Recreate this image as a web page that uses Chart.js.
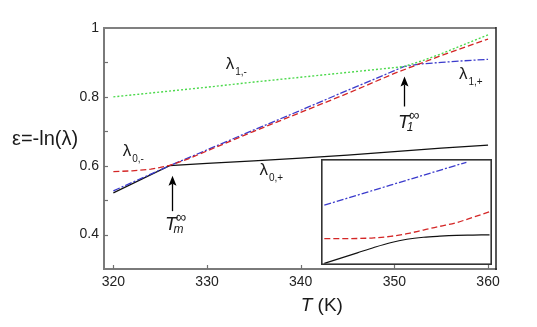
<!DOCTYPE html>
<html><head><meta charset="utf-8">
<script src="https://cdn.jsdelivr.net/npm/chart.js@4/dist/chart.umd.min.js"></script>
<style>
html,body{margin:0;padding:0;background:#fff;}
#wrap{position:relative;width:537px;height:327px;overflow:hidden;}
#main{position:absolute;left:0;top:0;}
#inset{position:absolute;left:321px;top:159px;}
</style></head><body>
<div id="wrap"><canvas id="main" width="537" height="327"></canvas><canvas id="inset" width="171" height="106"></canvas></div>
<script>
// ---- data ----
const xTickValues = [320, 330, 340, 350, 360];
const yTickValues = [0.4, 0.6, 0.8, 1.0];
const yMinorTicks = [0.4, 0.5, 0.6, 0.7, 0.8, 0.9];

const tGreen = [320, 325, 330, 335, 340, 345, 350, 351, 353, 355, 357, 360];
const lambda1Minus = [0.800, 0.814, 0.828, 0.843, 0.857, 0.871, 0.885, 0.888, 0.905, 0.925, 0.947, 0.980];

const tBlue = [320, 326, 330, 335, 340, 345, 350, 351, 353, 355, 357, 360];
const lambda1Plus = [0.527, 0.600, 0.646, 0.704, 0.761, 0.819, 0.876, 0.888, 0.896, 0.900, 0.904, 0.909];

const tRed = [320, 322, 324, 325, 326, 328, 330, 335, 340, 345, 350, 355, 360];
const lambda0Minus = [0.583, 0.585, 0.590, 0.595, 0.601, 0.620, 0.643, 0.700, 0.755, 0.810, 0.868, 0.920, 0.968];

const tBlack = [320, 326, 330, 335, 340, 345, 350, 355, 360];
const lambda0Plus = [0.521, 0.600, 0.607, 0.614, 0.622, 0.631, 0.641, 0.651, 0.660];

// inset (arbitrary units)
const insetBlueX = [0, 2, 4, 6, 8, 8.6];
const insetBlue = [0.565, 0.659, 0.753, 0.847, 0.941, 0.969];
const insetRedX = [0, 1, 2, 3, 4, 5, 6, 7, 8, 9, 10];
const insetRed = [0.248, 0.248, 0.250, 0.256, 0.270, 0.295, 0.330, 0.365, 0.400, 0.450, 0.502];
const insetBlackX = [0, 1, 2, 3, 4, 5, 6, 7, 8, 9, 10];
const insetBlack = [0.016, 0.065, 0.115, 0.165, 0.210, 0.243, 0.262, 0.272, 0.279, 0.282, 0.285];

const GREEN = '#4cd94c', RED = '#d42626', BLUE = '#3b3bcc', BLACK = '#111111';
const zip = (xs, ys) => xs.map((x, i) => ({x, y: ys[i]}));
const FONT = '"Liberation Sans", Arial, sans-serif';

const decor = {
  id: 'decor',
  afterDraw(chart) {
    const ctx = chart.ctx, xs = chart.scales.x, ys = chart.scales.y, a = chart.chartArea;
    const X = v => xs.getPixelForValue(v), Y = v => ys.getPixelForValue(v);
    ctx.save();
    // frame: top gray, right black
    ctx.strokeStyle = '#808080'; ctx.lineWidth = 2;
    ctx.beginPath(); ctx.moveTo(a.left - 1, a.top); ctx.lineTo(a.right, a.top); ctx.stroke();
    ctx.strokeStyle = '#222'; ctx.lineWidth = 1.5;
    ctx.beginPath(); ctx.moveTo(a.right, a.top - 1); ctx.lineTo(a.right, a.bottom + 1); ctx.stroke();
    // inward ticks
    ctx.strokeStyle = '#707070'; ctx.lineWidth = 1.2;
    yMinorTicks.forEach(v => { const p = Math.round(Y(v)) + 0.5; ctx.beginPath(); ctx.moveTo(a.left, p); ctx.lineTo(a.left + 4, p); ctx.stroke(); });
    xTickValues.forEach(v => { const p = Math.round(X(v)) + 0.5; ctx.beginPath(); ctx.moveTo(p, a.bottom); ctx.lineTo(p, a.bottom - 4); ctx.stroke(); });

    ctx.fillStyle = '#1a1a1a';
    ctx.textBaseline = 'alphabetic'; ctx.textAlign = 'left';
    const lam = (xv, yv, sub) => {
      ctx.font = '17px ' + FONT;
      const x0 = X(xv), y0 = Y(yv);
      ctx.fillText('λ', x0, y0);
      const w = ctx.measureText('λ').width;
      ctx.font = '10px ' + FONT;
      ctx.fillText(sub, x0 + w + 1, y0 + 6);
    };
    lam(332.0, 0.881, '1,-');
    lam(356.9, 0.851, '1,+');
    lam(321.0, 0.627, '0,-');
    lam(335.6, 0.574, '0,+');

    const arrow = (xv, y1, y2) => {
      const x0 = Math.round(X(xv)) + 0.5, yt = Y(y1), yb = Y(y2);
      ctx.strokeStyle = '#000'; ctx.lineWidth = 1.3;
      ctx.beginPath(); ctx.moveTo(x0, yb); ctx.lineTo(x0, yt + 8); ctx.stroke();
      ctx.fillStyle = '#000';
      ctx.beginPath(); ctx.moveTo(x0, yt); ctx.lineTo(x0 - 4, yt + 10); ctx.lineTo(x0, yt + 8); ctx.lineTo(x0 + 4, yt + 10); ctx.closePath(); ctx.fill();
    };
    arrow(351.05, 0.859, 0.772);
    arrow(326.26, 0.571, 0.468);

    const tlabel = (xv, yv, sub) => {
      const x0 = X(xv), y0 = Y(yv);
      ctx.fillStyle = '#1a1a1a';
      ctx.font = 'italic 19px ' + FONT;
      ctx.fillText('T', x0, y0);
      const w = ctx.measureText('T').width;
      ctx.font = 'italic 12px ' + FONT;
      ctx.fillText(sub, x0 + w - 3, y0 + 3);
      ctx.font = '15px ' + FONT;
      ctx.fillText('∞', x0 + w - 1, y0 - 8);
    };
    tlabel(350.4, 0.710, '1');
    tlabel(325.5, 0.414, 'm');

    // axis titles
    ctx.fillStyle = '#1a1a1a';
    ctx.font = '20px ' + FONT; ctx.textBaseline = 'middle';
    ctx.fillText('ε=-ln(λ)', 12, (Y(0.6) + Y(0.8)) / 2 + 8);
    ctx.textBaseline = 'alphabetic';
    const tx = X(340), ty = a.bottom + 42;
    ctx.font = 'italic 19px ' + FONT;
    ctx.fillText('T', tx, ty);
    const tw = ctx.measureText('T').width;
    ctx.font = '19px ' + FONT;
    ctx.fillText(' (K)', tx + tw, ty);
    ctx.restore();
  }
};

new Chart(document.getElementById('main'), {
  type: 'line',
  data: {
    datasets: [
      {label: 'λ1,-', data: zip(tGreen, lambda1Minus), borderColor: GREEN, borderDash: [2, 2], borderWidth: 1.4},
      {label: 'λ0,-', data: zip(tRed, lambda0Minus), borderColor: RED, borderDash: [6, 3], borderWidth: 1.3},
      {label: 'λ1,+', data: zip(tBlue, lambda1Plus), borderColor: BLUE, borderDash: [7, 2, 2, 2], borderWidth: 1.3},
      {label: 'λ0,+', data: zip(tBlack, lambda0Plus), borderColor: BLACK, borderWidth: 1.2}
    ]
  },
  options: {
    responsive: false, animation: false, devicePixelRatio: 1,
    layout: {padding: {top: 28, right: 41, left: 0, bottom: 0}},
    elements: {point: {radius: 0}, line: {tension: 0, fill: false}},
    plugins: {legend: {display: false}, tooltip: {enabled: false}},
    scales: {
      x: {
        type: 'linear', min: 319, max: 360.85,
        afterBuildTicks: s => { s.ticks = xTickValues.map(v => ({value: v})); },
        afterFit: s => { s.height = 58; },
        grid: {display: false, drawTicks: false},
        border: {display: true, color: '#7a7a7a', width: 2},
        ticks: {padding: 5, color: '#222', font: {size: 14, family: FONT}}
      },
      y: {
        type: 'linear', min: 0.3, max: 1.0,
        afterBuildTicks: s => { s.ticks = yTickValues.map(v => ({value: v})); },
        afterFit: s => { s.width = 104; },
        grid: {display: false, drawTicks: false},
        border: {display: true, color: '#7a7a7a', width: 2},
        ticks: {padding: 5, color: '#222', font: {size: 14, family: FONT}, callback: v => String(+v.toFixed(1))}
      }
    }
  },
  plugins: [decor]
});

const insetFrame = {
  id: 'insetFrame',
  beforeDraw(chart) {
    const ctx = chart.ctx;
    ctx.save(); ctx.fillStyle = '#fff'; ctx.fillRect(0, 0, chart.width, chart.height); ctx.restore();
  },
  afterDraw(chart) {
    const ctx = chart.ctx;
    ctx.save(); ctx.strokeStyle = '#333'; ctx.lineWidth = 1.6;
    ctx.strokeRect(0.8, 0.8, chart.width - 1.6, chart.height - 1.6); ctx.restore();
  }
};

new Chart(document.getElementById('inset'), {
  type: 'line',
  data: {
    datasets: [
      {data: zip(insetBlueX, insetBlue), borderColor: BLUE, borderDash: [7, 2, 2, 2], borderWidth: 1.3},
      {data: zip(insetRedX, insetRed), borderColor: RED, borderDash: [6, 3], borderWidth: 1.3, cubicInterpolationMode: 'monotone'},
      {data: zip(insetBlackX, insetBlack), borderColor: BLACK, borderWidth: 1.2, cubicInterpolationMode: 'monotone'}
    ]
  },
  options: {
    responsive: false, animation: false, devicePixelRatio: 1,
    layout: {padding: 0},
    elements: {point: {radius: 0}, line: {fill: false}},
    plugins: {legend: {display: false}, tooltip: {enabled: false}},
    scales: {
      x: {type: 'linear', display: false, min: -0.2, max: 10.15},
      y: {type: 'linear', display: false, min: 0, max: 1}
    }
  },
  plugins: [insetFrame]
});
</script>
</body></html>
